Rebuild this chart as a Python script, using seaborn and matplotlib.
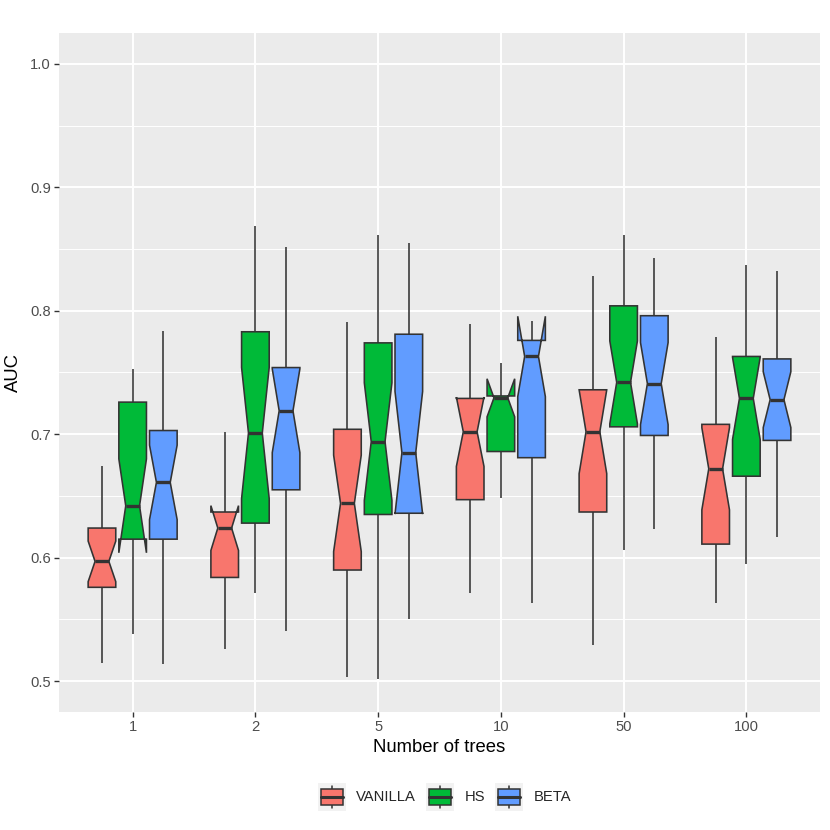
import numpy as np
import pandas as pd
import matplotlib
matplotlib.use("Agg")
import matplotlib.pyplot as plt
import seaborn as sns
from matplotlib.patches import Rectangle, Patch
from matplotlib.lines import Line2D
from matplotlib.legend_handler import HandlerBase
from matplotlib.ticker import MultipleLocator, AutoMinorLocator, FormatStrFormatter

# ---- data ----
trees = ["1", "2", "5", "10", "50", "100"]
methods = ["VANILLA", "HS", "BETA"]
colors = ["#F8766D", "#00BA38", "#619CFF"]

vanilla_lo  = [0.515, 0.526, 0.503, 0.571, 0.529, 0.563]
vanilla_q1  = [0.576, 0.584, 0.590, 0.647, 0.637, 0.611]
vanilla_med = [0.597, 0.624, 0.644, 0.702, 0.702, 0.672]
vanilla_q3  = [0.624, 0.637, 0.704, 0.729, 0.736, 0.708]
vanilla_hi  = [0.674, 0.702, 0.791, 0.789, 0.828, 0.779]

hs_lo  = [0.538, 0.571, 0.502, 0.648, 0.606, 0.595]
hs_q1  = [0.615, 0.628, 0.635, 0.686, 0.706, 0.666]
hs_med = [0.642, 0.701, 0.694, 0.7295, 0.742, 0.729]
hs_q3  = [0.726, 0.783, 0.774, 0.731, 0.804, 0.763]
hs_hi  = [0.753, 0.869, 0.861, 0.758, 0.861, 0.837]

beta_lo  = [0.514, 0.541, 0.550, 0.563, 0.623, 0.617]
beta_q1  = [0.615, 0.655, 0.636, 0.681, 0.699, 0.695]
beta_med = [0.661, 0.719, 0.685, 0.763, 0.741, 0.728]
beta_q3  = [0.703, 0.754, 0.781, 0.776, 0.796, 0.761]
beta_hi  = [0.784, 0.852, 0.855, 0.792, 0.843, 0.832]

summaries = {
    "VANILLA": (vanilla_lo, vanilla_q1, vanilla_med, vanilla_q3, vanilla_hi),
    "HS": (hs_lo, hs_q1, hs_med, hs_q3, hs_hi),
    "BETA": (beta_lo, beta_q1, beta_med, beta_q3, beta_hi),
}

# Expand each five-number summary into a 21-sample set whose quartiles
# equal the read values exactly (so the library computes the same boxes).
rows = []
for m in methods:
    lo, q1, med, q3, hi = summaries[m]
    for i, t in enumerate(trees):
        vals = [lo[i]] + [q1[i]] * 5 + [med[i]] * 5 + [q3[i]] * 9 + [hi[i]]
        for v in vals:
            rows.append({"trees": t, "method": m, "AUC": v})
df = pd.DataFrame(rows)

# ---- style ----
sns.set_theme(style="darkgrid")
plt.rcParams["font.family"] = ["Liberation Sans", "DejaVu Sans"]

fig = plt.figure(figsize=(8.3, 8.3), dpi=100)
ax = fig.add_axes([59 / 830, 118 / 830, 761 / 830, 679 / 830])
ax.set_facecolor("#EBEBEB")

sns.boxplot(
    data=df, x="trees", y="AUC", hue="method",
    order=trees, hue_order=methods, palette=colors, saturation=1,
    width=0.75, gap=0.1, whis=(0, 100), linecolor="#333333", linewidth=1.15,
    shownotches=True, showcaps=False, legend=False,
    medianprops={"linewidth": 2.4}, ax=ax,
)

ax.set_xlim(-0.6, 5.6)
ax.set_ylim(0.475, 1.025)
ax.yaxis.set_major_locator(MultipleLocator(0.1))
ax.yaxis.set_major_formatter(FormatStrFormatter("%.1f"))
ax.yaxis.set_minor_locator(AutoMinorLocator(2))

ax.set_axisbelow(True)
ax.grid(False)
ax.grid(which="major", axis="both", color="white", linewidth=1.4)
ax.grid(which="minor", axis="y", color="white", linewidth=0.7)
for s in ax.spines.values():
    s.set_visible(False)

ax.tick_params(which="major", length=3.5, width=1.0, color="#333333",
               labelsize=10.6, labelcolor="#4D4D4D", pad=2.5,
               bottom=True, left=True)
ax.tick_params(which="minor", length=0)

ax.set_xlabel("Number of trees", fontsize=13.3, color="black", labelpad=3)
ax.set_ylabel("AUC", fontsize=13.3, color="black", labelpad=6)


# ---- legend with boxplot glyph keys ----
class BoxKeyHandler(HandlerBase):
    def create_artists(self, legend, orig_handle, xdescent, ydescent,
                       width, height, fontsize, trans):
        x0, y0 = -xdescent, -ydescent
        bg = Rectangle((x0, y0), width, height, facecolor="#F2F2F2",
                       edgecolor="none", transform=trans)
        cx = x0 + width / 2
        wl = Line2D([cx, cx], [y0 + 0.1 * height, y0 + 0.9 * height],
                    color="#333333", lw=1.1, transform=trans)
        box = Rectangle((x0 + 0.1 * width, y0 + 0.21 * height), 0.8 * width,
                        0.58 * height, facecolor=orig_handle.get_facecolor(),
                        edgecolor="#333333", lw=1.1, transform=trans)
        med = Line2D([x0 + 0.1 * width, x0 + 0.9 * width],
                     [y0 + 0.5 * height, y0 + 0.5 * height],
                     color="#333333", lw=2.2, transform=trans)
        return [bg, wl, box, med]


handles = [Patch(facecolor=c, label=m) for m, c in zip(methods, colors)]
fig.legend(handles=handles, labels=methods, handler_map={Patch: BoxKeyHandler()},
           loc="center", bbox_to_anchor=(0.5355, 0.040), ncol=3, frameon=False,
           fontsize=10.6, handlelength=1.9, handleheight=2.55,
           handletextpad=0.7, columnspacing=0.7, borderaxespad=0,
           borderpad=0)

fig.savefig("out.png", dpi=100, facecolor="white")
